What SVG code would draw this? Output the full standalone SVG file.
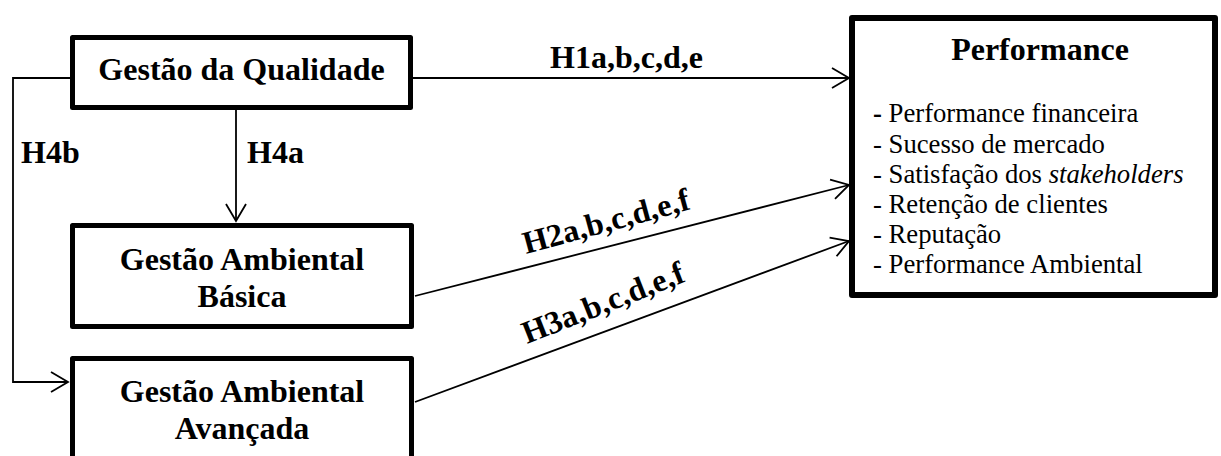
<svg xmlns="http://www.w3.org/2000/svg" width="1221" height="456" viewBox="0 0 1221 456">
<style>
.box{fill:#fff;stroke:#000;stroke-width:5;stroke-linejoin:round}
.pbox{fill:#fff;stroke:#000;stroke-width:6;stroke-linejoin:round}
.tb{font-family:'Liberation Serif','Times New Roman',serif;font-weight:bold;font-size:32px;fill:#000}
.tr{font-family:'Liberation Serif','Times New Roman',serif;font-size:26.7px;fill:#000}
.c{fill:none;stroke:#000;stroke-width:1.8}
</style>
<defs>
<marker id="ah" markerUnits="userSpaceOnUse" markerWidth="24" markerHeight="24" viewBox="-20 -12 22 24" refX="0" refY="0" orient="auto">
<path d="M-17,-10 L0,0 L-17,10" fill="none" stroke="#000" stroke-width="1.8"/>
</marker>
</defs>
<g id="connectors">
<line class="c" x1="413" y1="78" x2="849" y2="78" marker-end="url(#ah)"/>
<line class="c" x1="236" y1="110" x2="236" y2="221" marker-end="url(#ah)"/>
<polyline class="c" points="70,78 13,78 13,382 68,382" marker-end="url(#ah)"/>
<line class="c" x1="415" y1="296" x2="849" y2="185" marker-end="url(#ah)"/>
<line class="c" x1="415" y1="402" x2="849" y2="241" marker-end="url(#ah)"/>
<text class="tb" x="550" y="68">H1a,b,c,d,e</text>
<text class="tb" x="247" y="163">H4a</text>
<text class="tb" x="21" y="163">H4b</text>
<text class="tb" transform="translate(526,254) rotate(-15.2)">H2a,b,c,d,e,f</text>
<text class="tb" transform="translate(527,344) rotate(-21.5)">H3a,b,c,d,e,f</text>
</g>
<g id="gq">
<rect class="box" x="72.5" y="37.5" width="338" height="70"/>
<text class="tb" x="241.5" y="80" text-anchor="middle">Gestão da Qualidade</text>
</g>
<g id="gab">
<rect class="box" x="72.5" y="225.5" width="339" height="101"/>
<text class="tb" x="242" y="270" text-anchor="middle">Gestão Ambiental</text>
<text class="tb" x="242" y="307" text-anchor="middle">Básica</text>
</g>
<g id="gaa">
<rect class="box" x="72.5" y="358.5" width="339" height="110"/>
<text class="tb" x="242" y="402" text-anchor="middle">Gestão Ambiental</text>
<text class="tb" x="242" y="439" text-anchor="middle">Avançada</text>
</g>
<g id="perf">
<rect class="pbox" x="852" y="18" width="363" height="277"/>
<text class="tb" x="1040" y="60" text-anchor="middle">Performance</text>
<text class="tr" x="873" y="122"><tspan font-weight="bold">-</tspan> Performance financeira</text>
<text class="tr" x="873" y="153">- Sucesso de mercado</text>
<text class="tr" x="873" y="183">- Satisfação dos <tspan font-style="italic">stakeholders</tspan></text>
<text class="tr" x="873" y="213">- Retenção de clientes</text>
<text class="tr" x="873" y="243">- Reputação</text>
<text class="tr" x="873" y="273">- Performance Ambiental</text>
</g>
</svg>
